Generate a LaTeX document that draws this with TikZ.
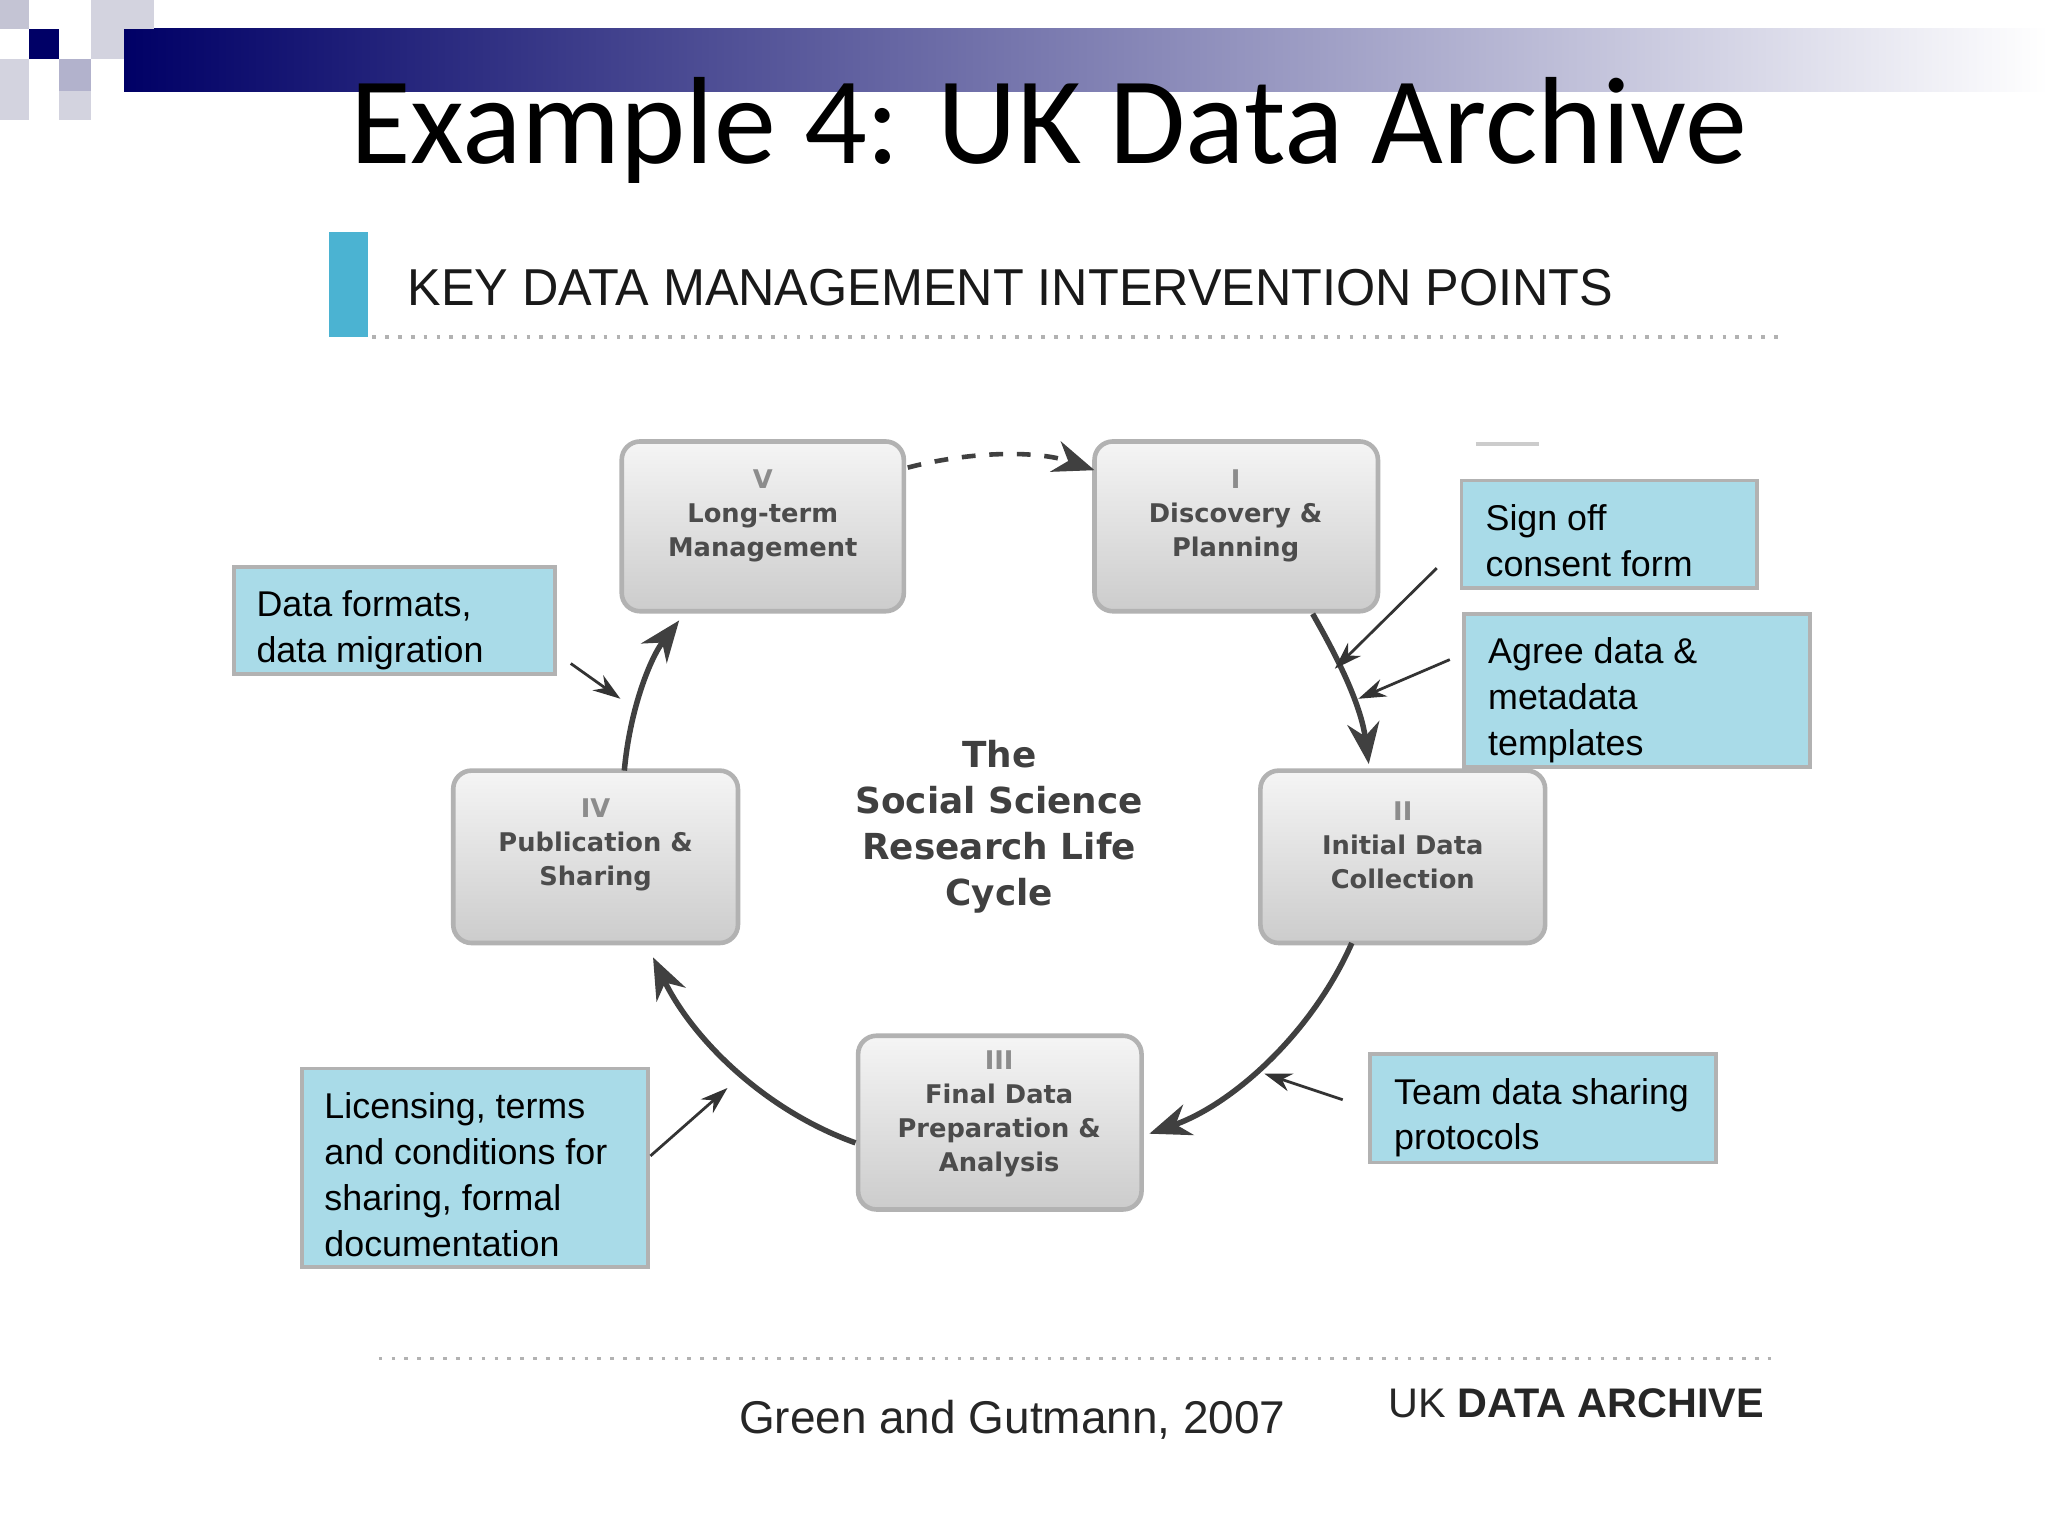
\documentclass[tikz,border=0pt]{standalone}
\usepackage{fontspec}
\setmainfont{Liberation Sans}
\newfontfamily\calfont{Carlito}
\newfontfamily\boxfont{DejaVu Sans}
\usetikzlibrary{arrows.meta}
\definecolor{notefill}{HTML}{A9DBE8}
\definecolor{headbar}{HTML}{4BB3D2}
\begin{document}
\begin{tikzpicture}[x=0.01cm,y=-0.01cm,
  stage/.style={draw=gray!60,rounded corners=4pt,top color=gray!8,bottom color=gray!40,line width=1pt},
  stagetext/.style={font=\boxfont\bfseries\fontsize{5.6}{7.4}\selectfont,text=black!70,align=center},
  note/.style={draw=gray!60,fill=notefill,line width=0.8pt},
  notetext/.style={font=\fontsize{7.8}{10}\selectfont,text=black,align=left,anchor=north west},
  cyc/.style={draw=black!75,line width=1.2pt,-{Stealth[length=9pt,width=7pt]}},
  pt/.style={draw=black!80,line width=0.6pt,-{Stealth[length=6pt,width=4pt]}}]
\useasboundingbox (0,0) rectangle (1568,1176);
\fill[white] (0,0) rectangle (1568,1176);
% corner decoration
\shade[left color=blue!40!black,right color=white] (95,22) rectangle (1568,70);
\fill[blue!15!gray!40] (0,0) rectangle (22,22);
\fill[blue!40!black] (22,22) rectangle (45,45);
\fill[blue!20!gray!50] (45,45) rectangle (70,70);
\fill[blue!15!gray!30] (70,22) rectangle (95,45);
\fill[blue!15!gray!30] (45,70) rectangle (70,92);
\fill[blue!15!gray!30] (0,45) rectangle (22,92);
\fill[blue!15!gray!30] (70,0) rectangle (118,22);
\node[font=\calfont\fontsize{27}{30}\selectfont] (title) at (803,100) {Example 4: UK Data Archive};
% header
\fill[headbar] (252,178) rectangle (282,258);
\node[anchor=west,font=\fontsize{11.3}{14}\selectfont,text=black!90,xscale=0.97] (head) at (300,220) {KEY DATA MANAGEMENT INTERVENTION POINTS};
\draw[gray!60,dotted,line width=0.8pt] (285,258) -- (1362,258);
\draw[gray!60,dotted,line width=0.8pt] (290,1040) -- (1362,1040);
\draw[gray!40,line width=1pt] (1130,340) -- (1178,340);
% stages
\draw[stage] (476,338) rectangle (692,468); \node[stagetext] (V) at (584,395) {{\color{black!45}V}\\Long-term\\Management};
\draw[stage] (838,338) rectangle (1055,468); \node[stagetext] (I) at (946,395) {{\color{black!45}I}\\Discovery \&\\Planning};
\draw[stage] (965,590) rectangle (1183,722); \node[stagetext] (II) at (1074,647) {{\color{black!45}II}\\Initial Data\\Collection};
\draw[stage] (657,793) rectangle (874,926); \node[stagetext] (III) at (765,853) {{\color{black!45}III}\\Final Data\\Preparation \&\\Analysis};
\draw[stage] (347,590) rectangle (565,722); \node[stagetext] (IV) at (456,647) {{\color{black!45}IV}\\Publication \&\\Sharing};
\node[font=\boxfont\bfseries\fontsize{7.8}{10}\selectfont,text=black!75,align=center] (centre) at (765,633) {The\\Social Science\\Research Life\\Cycle};
% cycle arrows
\coordinate (a1) at (478,590); \coordinate (a2) at (520,475);
\draw[cyc] (a1) .. controls (482,545) and (497,505) .. (a2);
\coordinate (b1) at (1005,470); \coordinate (b2) at (1048,585);
\draw[cyc] (b1) .. controls (1025,505) and (1042,540) .. (b2);
\coordinate (c1) at (1035,722); \coordinate (c2) at (880,868);
\draw[cyc] (c1) .. controls (1005,790) and (945,845) .. (c2);
\coordinate (d1) at (655,875); \coordinate (d2) at (500,733);
\draw[cyc] (d1) .. controls (585,850) and (530,795) .. (d2);
\coordinate (e1) at (695,358); \coordinate (e2) at (838,360);
\draw[cyc,dashed,line width=1pt] (e1) .. controls (745,345) and (795,345) .. (e2);
% notes
\draw[note] (179,434) rectangle (425,516); \node[notetext] (n1) at (184,440) {Data formats,\\data migration};
\draw[note] (1119,368) rectangle (1345,450); \node[notetext] (n2) at (1125,374) {Sign off\\consent form};
\draw[note] (1121,470) rectangle (1386,587); \node[notetext] (n3) at (1127,476) {Agree data \&\\metadata\\templates};
\draw[note] (1049,807) rectangle (1314,890); \node[notetext] (n4) at (1055,813) {Team data sharing\\protocols};
\draw[note] (231,818) rectangle (496,970); \node[notetext] (n5) at (236,824) {Licensing, terms\\and conditions for\\sharing, formal\\documentation};
\coordinate (p1) at (437,508); \coordinate (q1) at (475,535); \draw[pt] (p1) -- (q1);
\coordinate (p2) at (1100,435); \coordinate (q2) at (1022,512); \draw[pt] (p2) -- (q2);
\coordinate (p3) at (1110,505); \coordinate (q3) at (1040,535); \draw[pt] (p3) -- (q3);
\coordinate (p4) at (1028,842); \coordinate (q4) at (968,822); \draw[pt] (p4) -- (q4);
\coordinate (p5) at (498,885); \coordinate (q5) at (557,833); \draw[pt] (p5) -- (q5);
% footer
\node[font=\fontsize{10}{12}\selectfont,text=black!85] (cite) at (775,1087) {Green and Gutmann, 2007};
\node[font=\fontsize{9}{12}\selectfont,text=black!85] (uk) at (1207,1074) {UK \textbf{DATA ARCHIVE}};
\end{tikzpicture}
\end{document}
